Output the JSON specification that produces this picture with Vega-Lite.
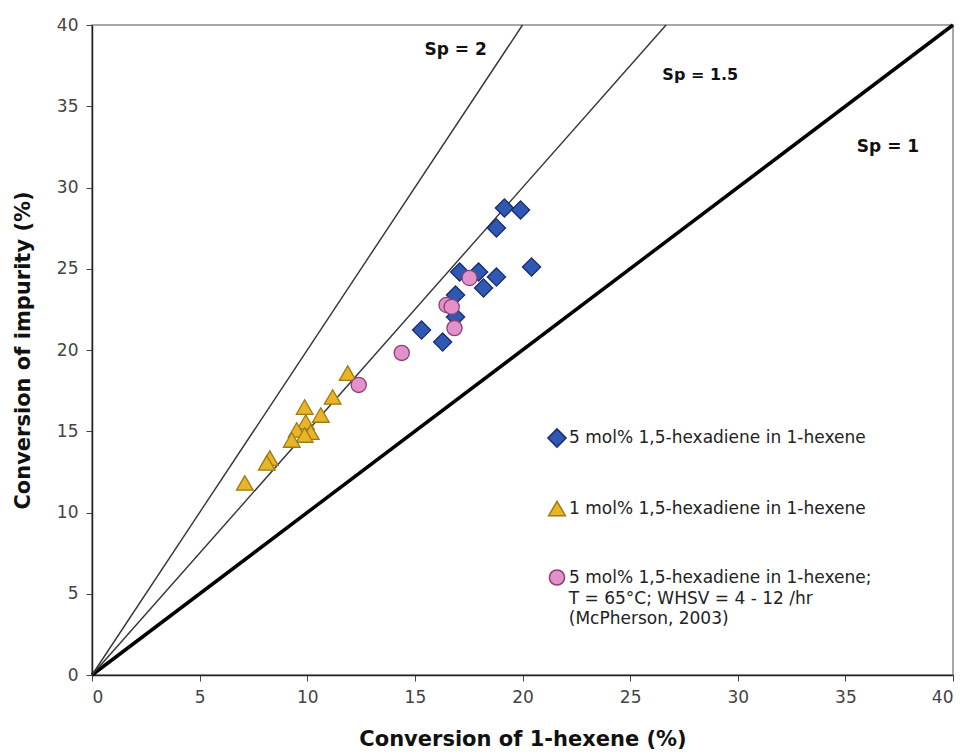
{
  "$schema": "https://vega.github.io/schema/vega-lite/v6.json",
  "autosize": "none",
  "padding": {"left": 92, "top": 25, "right": 10, "bottom": 81},
  "width": 861,
  "height": 650,
  "background": "white",
  "config": {
    "view": {"stroke": "#8a8a8a", "strokeWidth": 1.5},
    "font": "DejaVu Sans"
  },
  "datasets": {
    "lines": [
      {"sp": "1", "x": 0, "y": 0}, {"sp": "1", "x": 40, "y": 40},
      {"sp": "1.5", "x": 0, "y": 0}, {"sp": "1.5", "x": 26.67, "y": 40},
      {"sp": "2", "x": 0, "y": 0}, {"sp": "2", "x": 20, "y": 40}
    ],
    "points": [
      {"series": "5 mol% 1,5-hexadiene in 1-hexene", "hexene": 19.16, "impurity": 28.74},
      {"series": "5 mol% 1,5-hexadiene in 1-hexene", "hexene": 19.91, "impurity": 28.62},
      {"series": "5 mol% 1,5-hexadiene in 1-hexene", "hexene": 18.79, "impurity": 27.51},
      {"series": "5 mol% 1,5-hexadiene in 1-hexene", "hexene": 20.42, "impurity": 25.11},
      {"series": "5 mol% 1,5-hexadiene in 1-hexene", "hexene": 17.08, "impurity": 24.8},
      {"series": "5 mol% 1,5-hexadiene in 1-hexene", "hexene": 17.96, "impurity": 24.8},
      {"series": "5 mol% 1,5-hexadiene in 1-hexene", "hexene": 18.79, "impurity": 24.49},
      {"series": "5 mol% 1,5-hexadiene in 1-hexene", "hexene": 18.19, "impurity": 23.82},
      {"series": "5 mol% 1,5-hexadiene in 1-hexene", "hexene": 16.89, "impurity": 23.38},
      {"series": "5 mol% 1,5-hexadiene in 1-hexene", "hexene": 16.89, "impurity": 22.03},
      {"series": "5 mol% 1,5-hexadiene in 1-hexene", "hexene": 15.31, "impurity": 21.23},
      {"series": "5 mol% 1,5-hexadiene in 1-hexene", "hexene": 16.29, "impurity": 20.49},
      {"series": "1 mol% 1,5-hexadiene in 1-hexene", "hexene": 11.88, "impurity": 18.58},
      {"series": "1 mol% 1,5-hexadiene in 1-hexene", "hexene": 11.18, "impurity": 17.11},
      {"series": "1 mol% 1,5-hexadiene in 1-hexene", "hexene": 9.88, "impurity": 16.49},
      {"series": "1 mol% 1,5-hexadiene in 1-hexene", "hexene": 10.63, "impurity": 16.0},
      {"series": "1 mol% 1,5-hexadiene in 1-hexene", "hexene": 9.93, "impurity": 15.57},
      {"series": "1 mol% 1,5-hexadiene in 1-hexene", "hexene": 9.51, "impurity": 15.08},
      {"series": "1 mol% 1,5-hexadiene in 1-hexene", "hexene": 10.16, "impurity": 14.95},
      {"series": "1 mol% 1,5-hexadiene in 1-hexene", "hexene": 9.88, "impurity": 14.77},
      {"series": "1 mol% 1,5-hexadiene in 1-hexene", "hexene": 9.28, "impurity": 14.46},
      {"series": "1 mol% 1,5-hexadiene in 1-hexene", "hexene": 8.26, "impurity": 13.35},
      {"series": "1 mol% 1,5-hexadiene in 1-hexene", "hexene": 8.12, "impurity": 13.05},
      {"series": "1 mol% 1,5-hexadiene in 1-hexene", "hexene": 7.1, "impurity": 11.82},
      {"series": "5 mol% 1,5-hexadiene in 1-hexene; T = 65°C; WHSV = 4 - 12 /hr (McPherson, 2003)", "hexene": 17.54, "impurity": 24.43},
      {"series": "5 mol% 1,5-hexadiene in 1-hexene; T = 65°C; WHSV = 4 - 12 /hr (McPherson, 2003)", "hexene": 16.47, "impurity": 22.77},
      {"series": "5 mol% 1,5-hexadiene in 1-hexene; T = 65°C; WHSV = 4 - 12 /hr (McPherson, 2003)", "hexene": 16.71, "impurity": 22.65},
      {"series": "5 mol% 1,5-hexadiene in 1-hexene; T = 65°C; WHSV = 4 - 12 /hr (McPherson, 2003)", "hexene": 16.84, "impurity": 21.35},
      {"series": "5 mol% 1,5-hexadiene in 1-hexene; T = 65°C; WHSV = 4 - 12 /hr (McPherson, 2003)", "hexene": 14.39, "impurity": 19.82},
      {"series": "5 mol% 1,5-hexadiene in 1-hexene; T = 65°C; WHSV = 4 - 12 /hr (McPherson, 2003)", "hexene": 12.39, "impurity": 17.85}
    ]
  },
  "layer": [
    {
      "data": {"name": "lines"},
      "transform": [{"filter": "datum.sp == '1'"}],
      "mark": {"type": "line", "color": "#000000", "strokeWidth": 3.5},
      "encoding": {
        "x": {"field": "x", "type": "quantitative", "scale": {"domain": [0, 40], "nice": false},
          "axis": {"values": [0, 5, 10, 15, 20, 25, 30, 35, 40], "grid": false, "title": "Conversion of 1-hexene (%)",
            "titleFont": "DejaVu Sans", "titleFontWeight": "bold", "titleFontSize": 21, "titleColor": "#111", "titlePadding": 23,
            "labelFont": "DejaVu Sans", "labelFontSize": 17, "labelColor": "#444", "labelPadding": 8, "tickSize": 6,
            "domainColor": "#222", "domainWidth": 1.5, "tickColor": "#444"}},
        "y": {"field": "y", "type": "quantitative", "scale": {"domain": [0, 40], "nice": false},
          "axis": {"values": [0, 5, 10, 15, 20, 25, 30, 35, 40], "grid": false, "title": "Conversion of impurity (%)",
            "titleFont": "DejaVu Sans", "titleFontWeight": "bold", "titleFontSize": 21, "titleColor": "#111", "titlePadding": 23,
            "labelFont": "DejaVu Sans", "labelFontSize": 17, "labelColor": "#444", "labelPadding": 8, "tickSize": 6,
            "domainColor": "#222", "domainWidth": 1.5, "tickColor": "#444"}},
        "detail": {"field": "sp"}
      }
    },
    {
      "data": {"name": "lines"},
      "transform": [{"filter": "datum.sp != '1'"}],
      "mark": {"type": "line", "color": "#333333", "strokeWidth": 1.4},
      "encoding": {
        "x": {"field": "x", "type": "quantitative"},
        "y": {"field": "y", "type": "quantitative"},
        "detail": {"field": "sp"}
      }
    },
    {
      "data": {"name": "points"},
      "mark": {"type": "point", "filled": true, "strokeWidth": 1.3, "opacity": 1},
      "encoding": {
        "x": {"field": "hexene", "type": "quantitative"},
        "y": {"field": "impurity", "type": "quantitative"},
        "color": {"field": "series", "type": "nominal",
          "scale": {"domain": ["5 mol% 1,5-hexadiene in 1-hexene", "1 mol% 1,5-hexadiene in 1-hexene", "5 mol% 1,5-hexadiene in 1-hexene; T = 65°C; WHSV = 4 - 12 /hr (McPherson, 2003)"],
            "range": ["#2F58B5", "#E9B526", "#E392C9"]},
          "legend": {"orient": "none", "legendX": 455, "legendY": 403, "title": null, "direction": "vertical",
            "labelFont": "DejaVu Sans", "labelFontSize": 17, "labelColor": "#222", "labelLimit": 500, "labelBaseline": "middle", "labelOffset": 2,
            "symbolSize": 70, "rowPadding": 47,
            "labelExpr": "indexof(datum.label, 'McPherson') >= 0 ? '5 mol% 1,5-hexadiene in 1-hexene;' : datum.label"}},
        "shape": {"field": "series", "type": "nominal",
          "scale": {"domain": ["5 mol% 1,5-hexadiene in 1-hexene", "1 mol% 1,5-hexadiene in 1-hexene", "5 mol% 1,5-hexadiene in 1-hexene; T = 65°C; WHSV = 4 - 12 /hr (McPherson, 2003)"],
            "range": ["diamond", "triangle-up", "circle"]}},
        "stroke": {"field": "series", "type": "nominal",
          "scale": {"domain": ["5 mol% 1,5-hexadiene in 1-hexene", "1 mol% 1,5-hexadiene in 1-hexene", "5 mol% 1,5-hexadiene in 1-hexene; T = 65°C; WHSV = 4 - 12 /hr (McPherson, 2003)"],
            "range": ["#1A2D6B", "#9C7A18", "#8C3F78"]}},
        "size": {"field": "series", "type": "nominal", "legend": null,
          "scale": {"domain": ["5 mol% 1,5-hexadiene in 1-hexene", "1 mol% 1,5-hexadiene in 1-hexene", "5 mol% 1,5-hexadiene in 1-hexene; T = 65°C; WHSV = 4 - 12 /hr (McPherson, 2003)"],
            "range": [330, 230, 280]}}
      }
    },
    {
      "data": {"values": [{}]},
      "mark": {"type": "text", "font": "DejaVu Sans", "fontSize": 17, "color": "#222", "align": "left", "baseline": "alphabetic", "lineHeight": 20},
      "encoding": {"x": {"datum": 22.15}, "y": {"datum": 4.4}, "text": {"value": ["T = 65°C; WHSV = 4 - 12 /hr", "(McPherson, 2003)"]}}
    },
    {
      "data": {"values": [{}]},
      "mark": {"type": "text", "font": "DejaVu Sans", "fontWeight": "bold", "fontSize": 17, "color": "#111", "align": "center", "baseline": "middle"},
      "encoding": {"x": {"datum": 16.89}, "y": {"datum": 38.46}, "text": {"value": "Sp = 2"}}
    },
    {
      "data": {"values": [{}]},
      "mark": {"type": "text", "font": "DejaVu Sans", "fontWeight": "bold", "fontSize": 16, "color": "#111", "align": "center", "baseline": "middle"},
      "encoding": {"x": {"datum": 28.26}, "y": {"datum": 36.92}, "text": {"value": "Sp = 1.5"}}
    },
    {
      "data": {"values": [{}]},
      "mark": {"type": "text", "font": "DejaVu Sans", "fontWeight": "bold", "fontSize": 17, "color": "#111", "align": "center", "baseline": "middle"},
      "encoding": {"x": {"datum": 36.98}, "y": {"datum": 32.49}, "text": {"value": "Sp = 1"}}
    }
  ]
}
